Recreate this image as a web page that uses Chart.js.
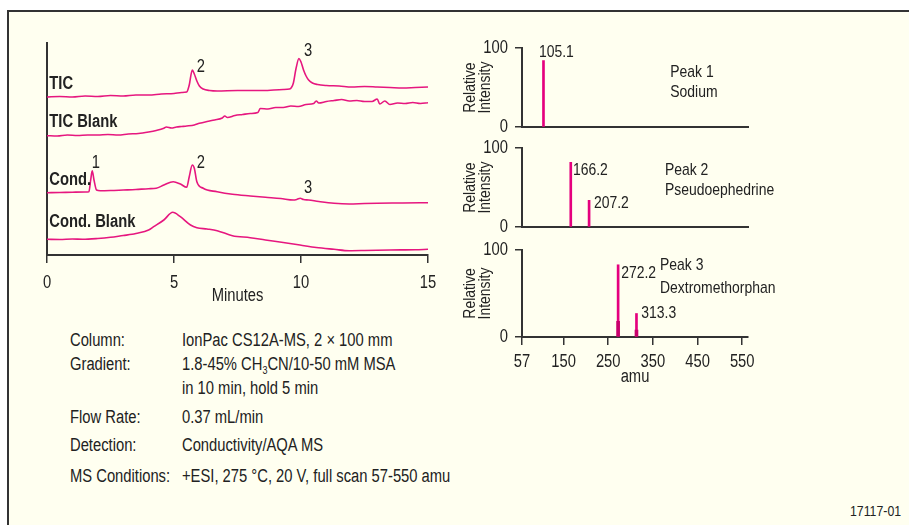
<!DOCTYPE html>
<html>
<head>
<meta charset="utf-8">
<script src="https://cdn.jsdelivr.net/npm/chart.js@4/dist/chart.umd.min.js"></script>
<style>
  html, body { margin: 0; padding: 0; background: #fff; width: 909px; height: 525px; overflow: hidden; }
  #frame { position: absolute; left: 7px; top: 10px; width: 920px; height: 530px; background: #fffff0;
           border-left: 2px solid #333; border-top: 2px solid #333; }
  canvas { position: absolute; }
  .txt { position: absolute; font-family: "Liberation Sans", Arial, sans-serif; font-size: 18px; line-height: 20px;
         color: #222; white-space: nowrap; transform: scaleX(0.82); transform-origin: 0 50%; }
</style>
</head>
<body>
<div id="frame"></div>
<canvas id="chrom" width="450" height="310" style="left:0;top:0"></canvas>
<canvas id="spec1" width="360" height="115" style="left:440px;top:30px"></canvas>
<canvas id="spec2" width="360" height="115" style="left:440px;top:130px"></canvas>
<canvas id="spec3" width="360" height="165" style="left:440px;top:232px"></canvas>
<div id="conditions"></div>
<div class="txt" style="left:850px;top:501px;font-size:15px">17117-01</div>
<script>
// chromatograms: time (min) and detector response, traces stacked on one offset scale
const ticTime = [0, 0.5, 1, 1.5, 2, 2.5, 3, 3.5, 4, 4.5, 5, 5.3, 5.5, 5.6, 5.72, 5.8, 5.9, 6.0, 6.15, 6.4, 6.7, 7.5, 8.5, 9.3, 9.55, 9.7, 9.8, 9.92, 10.0, 10.1, 10.2, 10.3, 10.45, 10.65, 11, 11.5, 12, 12.5, 13, 13.5, 14, 14.5, 15];
const ticResp = [158, 158.5, 158, 159, 158.5, 159.5, 159, 160, 160, 161, 161.5, 162.5, 163, 170, 185, 181, 174, 169, 166, 164.5, 164, 164.5, 164.5, 165.5, 166, 172, 186, 196.5, 193, 185, 179, 175, 172, 170.5, 169.5, 169, 168, 168.5, 168, 167.5, 167, 167.5, 168];

const ticBlankTime = [0, 0.4, 0.8, 1.2, 1.6, 2.0, 2.4, 2.8, 3.2, 3.6, 4.0, 4.3, 4.6, 4.7, 4.9, 5.1, 5.3, 5.5, 5.8, 6.0, 6.3, 6.6, 6.9, 7.0, 7.1, 7.4, 7.7, 8.0, 8.3, 8.4, 8.7, 9.0, 9.3, 9.6, 9.9, 10.2, 10.5, 10.6, 10.7, 11.0, 11.3, 11.6, 11.9, 12.2, 12.5, 12.8, 13.0, 13.1, 13.3, 13.5, 13.8, 14.1, 14.4, 14.7, 15];
const ticBlankResp = [119.3, 119, 120, 119.5, 120, 120, 120.5, 120, 121, 121.5, 123, 124.5, 126.7, 128, 127, 128, 128.5, 129, 130, 131.7, 133.5, 135, 137, 139, 137.5, 139.5, 140.5, 141.5, 142.5, 146.5, 146, 147.5, 147.5, 149, 148.5, 150.5, 151.5, 154, 152, 153.5, 154.5, 155.5, 154, 154.5, 153.5, 153.5, 156, 151, 154, 150.5, 152, 151.5, 152.5, 151.5, 152.3];

const condTime = [0, 0.5, 1, 1.5, 1.65, 1.72, 1.78, 1.85, 1.95, 2.1, 2.5, 3, 3.5, 4, 4.3, 4.6, 4.97, 5.25, 5.5, 5.6, 5.72, 5.8, 5.9, 6.15, 6.7, 7.3, 8, 8.6, 9.2, 9.7, 9.85, 9.97, 10.1, 10.3, 10.7, 11.3, 11.9, 12.5, 13, 14, 15];
const condResp = [62.3, 62.5, 62.8, 63, 63.3, 75, 84.3, 75, 65, 64.3, 64.5, 65, 65.5, 66.3, 66.7, 70, 73.3, 71, 67.7, 78.3, 90, 86.7, 73.3, 66.7, 63.3, 60.7, 59, 57.7, 56.5, 55, 55.7, 56.7, 55.5, 55, 53.5, 51.7, 51, 51.5, 51.8, 52, 52.3];

const condBlankTime = [0, 0.5, 1, 1.4, 2, 2.5, 3, 3.35, 3.5, 4, 4.2, 4.6, 4.95, 5.25, 5.65, 5.9, 6.3, 6.7, 7.3, 8, 8.6, 9.3, 9.96, 10.6, 11.3, 11.9, 12.5, 13.5, 14.5, 15];
const condBlankResp = [15.7, 15.5, 16, 15.7, 16.5, 17.7, 19.5, 20.7, 21.5, 25, 28.3, 35, 42.7, 38.3, 30, 27.3, 26, 24.3, 19.3, 17.3, 15, 12.5, 10, 7.5, 5.7, 4.3, 4.5, 5, 5.3, 5.7];

const minuteTicks = [0, 5, 10, 15];

// mass spectra (amu, relative intensity)
const peak1Mass = [105.1];
const peak1Int = [84];
const peak2Mass = [166.2, 207.2];
const peak2Int = [82, 34];
const peak3Mass = [272.2, 313.3];
const peak3Int = [83, 27];
const peak3Under = [18, 8];
const amuTicks = [57, 150, 250, 350, 450, 550];

// labels, placed in data units
const chromNotes = [
  { text: 'TIC', x: 0.09, y: 171, bold: true },
  { text: 'TIC Blank', x: 0.09, y: 133, bold: true },
  { text: 'Cond.', x: 0.09, y: 75, bold: true },
  { text: 'Cond. Blank', x: 0.09, y: 33, bold: true },
  { text: '2', x: 5.9, y: 188 },
  { text: '3', x: 10.12, y: 203.5 },
  { text: '1', x: 1.76, y: 92 },
  { text: '2', x: 5.9, y: 92 },
  { text: '3', x: 10.12, y: 67 }
];
const spec1Notes = [
  { text: '105.1', x: 95, y: 95 },
  { text: 'Peak 1', x: 389, y: 69 },
  { text: 'Sodium', x: 389, y: 43.5 }
];
const spec2Notes = [
  { text: '166.2', x: 171, y: 71.3 },
  { text: '207.2', x: 218, y: 30 },
  { text: 'Peak 2', x: 377, y: 71.6 },
  { text: 'Pseudoephedrine', x: 377, y: 46 }
];
const spec3Notes = [
  { text: '272.2', x: 279, y: 73.6 },
  { text: '313.3', x: 324, y: 27.2 },
  { text: 'Peak 3', x: 366, y: 82 },
  { text: 'Dextromethorphan', x: 366, y: 56 }
];

const FONT = '"Liberation Sans", Arial, sans-serif';
const NARROW = 0.82; // squeeze to look like the condensed face of the original
const INK = '#222';
const AXIS = '#333';
const PINK = '#e6177f';
const BAR = '#e5007e';
const BAR_DARK = '#c8006c';

Chart.defaults.font.family = FONT;
Chart.defaults.color = INK;

// every text drawn on these canvases gets squeezed around its anchor point
function condense(canvas) {
  let ctx = canvas.getContext('2d');
  let fill = ctx.fillText.bind(ctx);
  ctx.fillText = function (text, x, y, maxWidth) {
    this.save();
    this.translate(x, y);
    this.scale(NARROW, 1);
    if (maxWidth === undefined) fill(text, 0, 0);
    else fill(text, 0, 0, maxWidth / NARROW);
    this.restore();
  };
  return canvas;
}

// draws text labels at data coordinates
const notePlugin = {
  id: 'notes',
  afterDatasetsDraw(chart, args, opts) {
    const { ctx, scales } = chart;
    ctx.save();
    ctx.fillStyle = INK;
    ctx.textBaseline = 'middle';
    ctx.textAlign = 'left';
    (opts.items || []).forEach(n => {
      ctx.font = (n.bold ? 'bold ' + opts.boldSize : opts.size) + 'px ' + FONT;
      ctx.fillText(n.text, scales.x.getPixelForValue(n.x), scales.y.getPixelForValue(n.y));
    });
    ctx.restore();
  }
};

function trace(times, values) {
  return {
    data: times.map((t, i) => ({ x: t, y: values[i] })),
    borderColor: PINK,
    borderWidth: 1.6,
    pointRadius: 0,
    cubicInterpolationMode: 'monotone',
    fill: false
  };
}

new Chart(condense(document.getElementById('chrom')), {
  type: 'line',
  data: {
    datasets: [
      trace(ticTime, ticResp),
      trace(ticBlankTime, ticBlankResp),
      trace(condTime, condResp),
      trace(condBlankTime, condBlankResp)
    ]
  },
  options: {
    responsive: false,
    animation: false,
    layout: { padding: { left: 47, right: 22, top: 43, bottom: 0 } },
    plugins: {
      legend: { display: false },
      tooltip: { enabled: false },
      notes: { items: chromNotes, size: 18, boldSize: 18 }
    },
    scales: {
      x: {
        type: 'linear',
        min: 0,
        max: 15,
        afterBuildTicks: s => { s.ticks = minuteTicks.map(v => ({ value: v })); },
        afterFit: s => { s.height = 55; },
        ticks: { padding: 9, color: INK, font: { size: 18 } },
        grid: { drawOnChartArea: false, drawTicks: true, tickLength: 8, color: AXIS, lineWidth: 1.5 },
        border: { color: AXIS, width: 2 },
        title: { display: true, text: 'Minutes', color: INK, font: { size: 18 }, padding: { top: 0, bottom: 3 } }
      },
      y: {
        min: 0,
        max: 212,
        afterFit: s => { s.width = 0; },
        ticks: { display: false },
        grid: { display: false },
        border: { color: AXIS, width: 2 }
      }
    }
  },
  plugins: [notePlugin]
});

function spectrum(id, masses, ints, under, notes, bottomAxis) {
  let datasets = [{
    data: masses.map((m, i) => ({ x: m, y: ints[i] })),
    backgroundColor: BAR,
    barThickness: 2,
    grouped: false,
    order: 2
  }];
  if (under) {
    datasets.push({
      data: masses.map((m, i) => ({ x: m, y: under[i] })),
      backgroundColor: BAR_DARK,
      barThickness: 3,
      grouped: false,
      order: 1
    });
  }

  let xScale = {
    type: 'linear',
    min: 57,
    max: 563,
    offset: false,
    border: { color: AXIS, width: 2 }
  };
  if (bottomAxis) {
    xScale.afterBuildTicks = s => { s.ticks = amuTicks.map(v => ({ value: v })); };
    xScale.afterFit = s => { s.height = 60; };
    xScale.ticks = { padding: 6, color: INK, font: { size: 18 } };
    xScale.grid = { offset: false, drawOnChartArea: false, drawTicks: true, tickLength: 8, color: AXIS, lineWidth: 1.5 };
    xScale.title = { display: true, text: 'amu', color: INK, font: { size: 18 }, padding: { top: 0, bottom: 9 } };
  } else {
    xScale.afterFit = s => { s.height = 0; };
    xScale.ticks = { display: false };
    xScale.grid = { offset: false, display: false, drawTicks: false };
  }

  new Chart(condense(document.getElementById(id)), {
    type: 'bar',
    data: { datasets },
    options: {
      responsive: false,
      animation: false,
      layout: { padding: { left: 0, right: 52, top: 18, bottom: bottomAxis ? 0 : 9 } },
      plugins: {
        legend: { display: false },
        tooltip: { enabled: false },
        notes: { items: notes, size: 17, boldSize: 17 }
      },
      scales: {
        x: xScale,
        y: {
          min: 0,
          max: 100,
          afterBuildTicks: s => { s.ticks = [{ value: 0 }, { value: 100 }]; },
          afterFit: s => { s.width = 82; },
          ticks: { padding: 7, color: INK, font: { size: 18 } },
          grid: { drawOnChartArea: false, drawTicks: true, tickLength: 7, color: AXIS, lineWidth: 1.5 },
          border: { color: AXIS, width: 2 },
          title: {
            display: true,
            text: ['Relative', 'Intensity'],
            color: INK,
            font: { size: 17, lineHeight: '15px' },
            padding: { top: 23, bottom: 0 }
          }
        }
      }
    },
    plugins: [notePlugin]
  });
}

spectrum('spec1', peak1Mass, peak1Int, null, spec1Notes, false);
spectrum('spec2', peak2Mass, peak2Int, null, spec2Notes, false);
spectrum('spec3', peak3Mass, peak3Int, peak3Under, spec3Notes, true);

// run conditions block
const conditionRows = [
  ['Column:', 'IonPac CS12A-MS, 2 × 100 mm', 330],
  ['Gradient:', '1.8-45% CH<sub style="font-size:11px;vertical-align:-4px;line-height:0">3</sub>CN/10-50 mM MSA', 353.5],
  ['', 'in 10 min, hold 5 min', 377.5],
  ['Flow Rate:', '0.37 mL/min', 406.5],
  ['Detection:', 'Conductivity/AQA MS', 435],
  ['MS Conditions:', '+ESI, 275 °C, 20 V, full scan 57-550 amu', 465.5]
];
let box = document.getElementById('conditions');
conditionRows.forEach(([label, value, top]) => {
  let l = document.createElement('div');
  l.className = 'txt';
  l.style.left = '70px';
  l.style.top = top + 'px';
  l.textContent = label;
  box.appendChild(l);
  let v = document.createElement('div');
  v.className = 'txt';
  v.style.left = '182px';
  v.style.top = top + 'px';
  v.innerHTML = value;
  box.appendChild(v);
});
</script>
</body>
</html>
